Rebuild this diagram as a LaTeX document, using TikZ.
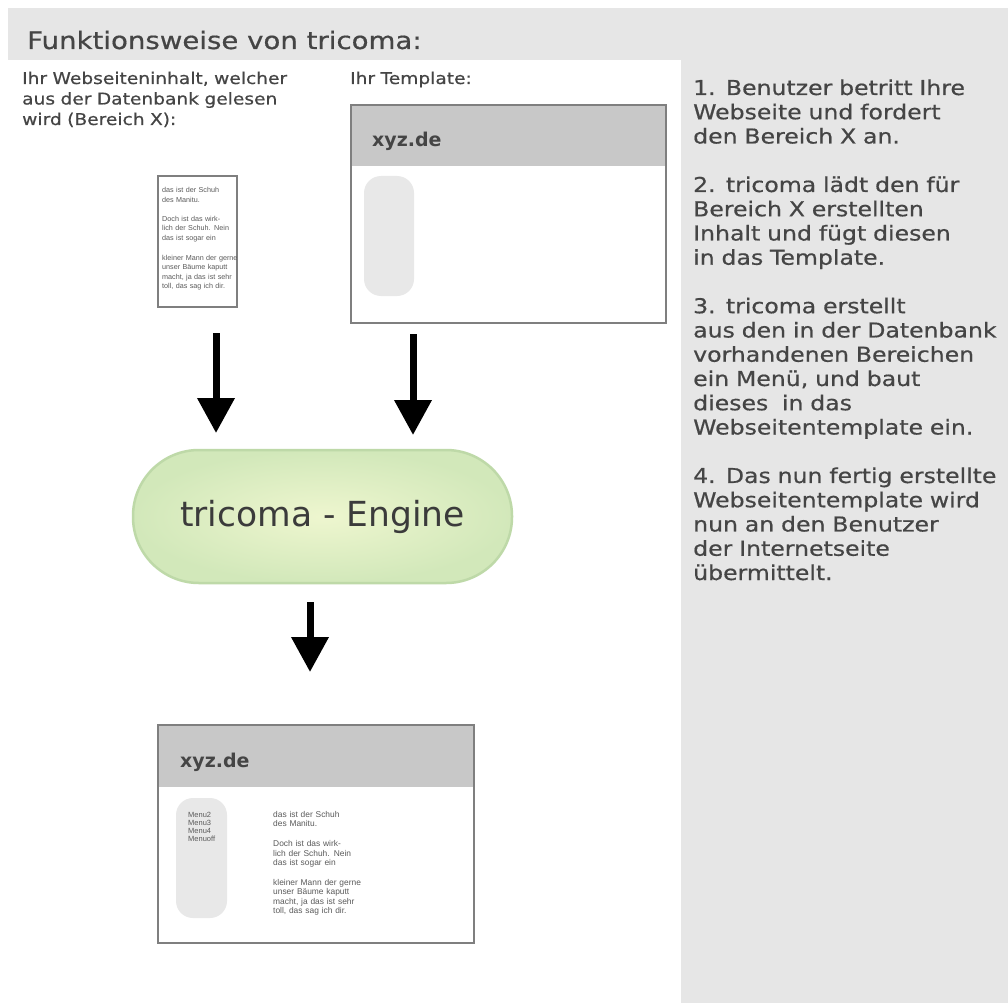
\documentclass[tikz,border=0pt]{standalone}
\usepackage{fontspec}
\setmainfont{DejaVu Sans}
\newfontfamily\techfont[FakeStretch=1.15,FakeBold=0.6]{DejaVu Sans}
\newfontfamily\webfont{Liberation Sans}
\usetikzlibrary{arrows.meta}
\definecolor{panelgray}{HTML}{E6E6E6}
\definecolor{headgray}{HTML}{C8C8C8}
\definecolor{pillgray}{HTML}{E8E8E8}
\definecolor{bordergray}{HTML}{7F7F7F}
\definecolor{txtgray}{HTML}{454545}
\definecolor{smallgray}{HTML}{5A5A5A}
\definecolor{enginner}{HTML}{EEF6CF}
\definecolor{engouter}{HTML}{D2E8BA}
\definecolor{engborder}{HTML}{BED9A8}
\tikzset{
  pagebox/.style={draw=bordergray, line width=1.5pt, fill=white, inner sep=0pt},
  docbox/.style={draw=bordergray, line width=1.5pt, fill=white, inner sep=0pt},
  menupill/.style={fill=pillgray, inner sep=0pt, minimum width=50pt, minimum height=120pt, rounded corners=17pt},
  sitename/.style={font=\bfseries\fontsize{19}{22}\selectfont, text=txtgray, inner sep=0pt, anchor=base west},
  smalltext/.style={font=\webfont\fontsize{7.2}{9.5}\selectfont, text=smallgray, inner sep=0pt, anchor=base west, text width=90pt, align=left},
  labeltext/.style={font=\techfont\fontsize{16.2}{20.5}\selectfont, text=txtgray, inner sep=0pt, anchor=base west, text width=300pt, align=left},
  steptext/.style={font=\techfont\fontsize{20.5}{24.25}\selectfont, text=txtgray, inner sep=0pt, anchor=base west, text width=330pt, align=left},
  enginebox/.style={draw=engborder, line width=2.5pt, inner color=enginner, outer color=engouter,
    minimum width=379pt, minimum height=133pt, rounded corners=66pt, inner sep=0pt,
    font=\fontsize{34.5}{40}\selectfont, text=txtgray!85!black},
  bigarrow/.style={line width=7pt, -{Triangle[width=36pt,length=35pt]}, black}
}
\begin{document}
\begin{tikzpicture}[x=1pt,y=-1pt]
\useasboundingbox (0,0) rectangle (1008,1003);
\fill[white] (0,0) rectangle (1008,1003);
\fill[panelgray] (8,8) rectangle (1008,60);
\fill[panelgray] (681,60) rectangle (1008,1003);

% title
\node[font=\techfont\fontsize{24}{28}\selectfont, text=txtgray, inner sep=0pt, anchor=base west] (title) at (27,49) {Funktionsweise von tricoma:};

% labels
\node[labeltext] (lblcontent) at (22,84) {Ihr Webseiteninhalt, welcher\\aus der Datenbank gelesen\\wird (Bereich X):};
\node[labeltext] (lbltpl) at (350,84) {Ihr Template:};

% steps
\node[steptext] (steps) at (693,95) {1. Benutzer betritt Ihre\\Webseite und fordert\\den Bereich X an.\\\mbox{}\\2. tricoma lädt den für\\Bereich X erstellten\\Inhalt und fügt diesen\\in das Template.\\\mbox{}\\3. tricoma erstellt\\aus den in der Datenbank\\vorhandenen Bereichen\\ein Menü, und baut\\dieses~ in das\\Webseitentemplate ein.\\\mbox{}\\4. Das nun fertig erstellte\\Webseitentemplate wird\\nun an den Benutzer\\der Internetseite\\übermittelt.};

% content document
\node[docbox, minimum width=79pt, minimum height=131pt] (doc) at (197.5,241.5) {};
\node[smalltext] (doctext) at (162,192.5) {das ist der Schuh\\des Manitu.\\[10pt]Doch ist das wirk-\\lich der Schuh. Nein\\das ist sogar ein\\[10pt]kleiner Mann der gerne\\unser Bäume kaputt\\macht, ja das ist sehr\\toll, das sag ich dir.};

% template
\node[pagebox, minimum width=315pt, minimum height=218pt,
  path picture={\fill[headgray] (path picture bounding box.north west) rectangle ([yshift=-61pt]path picture bounding box.north east);}] (tpl) at (508.5,214) {};
\node[sitename] (tplname) at (372,147) {xyz.de};
\node[menupill] (tplmenu) at (389,236) {};

% engine
\node[enginebox] (engine) at (322.5,516.5) {tricoma - Engine};

% result page
\node[pagebox, minimum width=316pt, minimum height=218pt,
  path picture={\fill[headgray] (path picture bounding box.north west) rectangle ([yshift=-62pt]path picture bounding box.north east);}] (res) at (316,834) {};
\node[sitename] (resname) at (180,767) {xyz.de};
\node[menupill, minimum width=51pt] (resmenu) at (201.5,858) {};
\node[smalltext, font=\webfont\fontsize{7.5}{8.3}\selectfont] (resmenutext) at (188,817) {Menu2\\Menu3\\Menu4\\Menuoff};
\node[smalltext, font=\webfont\fontsize{8.4}{9.5}\selectfont, text width=120pt] (restext) at (273,817) {das ist der Schuh\\des Manitu.\\[10.5pt]Doch ist das wirk-\\lich der Schuh. Nein\\das ist sogar ein\\[10pt]kleiner Mann der gerne\\unser Bäume kaputt\\macht, ja das ist sehr\\toll, das sag ich dir.};

% arrows
\coordinate (a1s) at (216,333);
\coordinate (a1e) at (216,433);
\coordinate (a2s) at (413,334);
\coordinate (a2e) at (413,435);
\coordinate (a3s) at (310,602);
\coordinate (a3e) at (310,672);
\draw[bigarrow] (a1s) -- (a1e);
\draw[bigarrow] (a2s) -- (a2e);
\draw[bigarrow] (a3s) -- (a3e);
\end{tikzpicture}
\end{document}
